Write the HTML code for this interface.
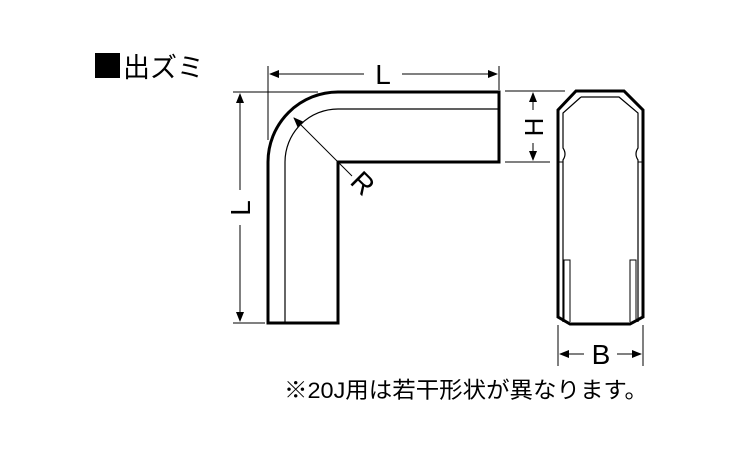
<!DOCTYPE html>
<html><head><meta charset="utf-8"><style>
body{margin:0;background:#fff;}
svg{display:block}
text{font-family:"Liberation Sans","Noto Sans CJK JP",sans-serif;fill:#000}
</style></head><body>
<svg width="750" height="450" viewBox="0 0 750 450" xmlns="http://www.w3.org/2000/svg">
<defs>
<marker id="a" markerWidth="10" markerHeight="8" refX="9" refY="4" orient="auto" markerUnits="userSpaceOnUse">
<path d="M0,0 L10,4 L0,8 Z" fill="#000"/></marker>
</defs>
<rect x="95" y="53" width="25" height="25" fill="#000"/>
<text x="123" y="77" font-size="27">出ズミ</text>

<g fill="none" stroke="#000">
<path d="M268,323 L268,162 A70,70 0 0 1 338,92 L499,92 L499,162 L338,162 L338,323 Z" stroke-width="3"/>
<path d="M285,323 L285,162 A53,53 0 0 1 338,109 L499,109" stroke-width="1.2"/>
<g stroke-width="1">
<line x1="268" y1="66" x2="268" y2="140"/>
<line x1="499" y1="66" x2="499" y2="90"/>
<line x1="364" y1="74" x2="270" y2="74" marker-end="url(#a)"/>
<line x1="402" y1="74" x2="497" y2="74" marker-end="url(#a)"/>
<line x1="233" y1="92" x2="318" y2="92"/>
<line x1="233" y1="323" x2="265" y2="323"/>
<line x1="240" y1="190" x2="240" y2="94" marker-end="url(#a)"/>
<line x1="240" y1="225" x2="240" y2="321" marker-end="url(#a)"/>
<line x1="352" y1="176" x2="294" y2="118" marker-end="url(#a)"/>
<line x1="505" y1="91" x2="565" y2="91"/>
<line x1="505" y1="162" x2="550" y2="162"/>
<line x1="533" y1="110" x2="533" y2="93" marker-end="url(#a)"/>
<line x1="533" y1="143" x2="533" y2="160" marker-end="url(#a)"/>
<line x1="558" y1="325" x2="558" y2="366"/>
<line x1="643" y1="325" x2="643" y2="366"/>
<line x1="584" y1="354" x2="560" y2="354" marker-end="url(#a)"/>
<line x1="617" y1="354" x2="641" y2="354" marker-end="url(#a)"/>
</g>
<path d="M576,91 L624,91 L643,110 L643,317 L630,324 L570,324 L558,317 L558,110 Z" stroke-width="3"/>
<path d="M581,97 L619,97 L638,113 L638,148 Q634,154 638,160 L638,322 M581,97 L563,113 L563,148 Q567,154 563,160 L563,322" stroke-width="1.2"/>
<line x1="558" y1="162" x2="563" y2="162" stroke-width="1"/>
<line x1="638" y1="162" x2="643" y2="162" stroke-width="1"/>
<path d="M564,322 L564,260 L570,260 L570,322 M636,322 L636,260 L630,260 L630,322" stroke-width="1"/>
</g>
<text x="383" y="84" font-size="28" text-anchor="middle">L</text>
<text transform="translate(250,208) rotate(-90)" font-size="28" text-anchor="middle">L</text>
<text transform="translate(356,190) rotate(45)" font-size="28" text-anchor="middle">R</text>
<text transform="translate(543,127) rotate(-90)" font-size="26" text-anchor="middle">H</text>
<text x="601" y="364" font-size="28" text-anchor="middle">B</text>
<text x="284" y="398" font-size="22.5" textLength="364" lengthAdjust="spacingAndGlyphs">※20J用は若干形状が異なります。</text>
</svg>
</body></html>
